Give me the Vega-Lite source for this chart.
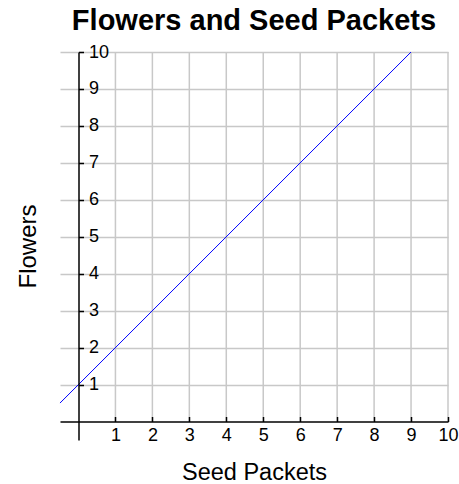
{
  "$schema": "https://vega.github.io/schema/vega-lite/v6.json",
  "autosize": "none",
  "width": 388,
  "height": 388,
  "padding": {"left": 60, "top": 52, "right": 11, "bottom": 44},
  "background": "white",
  "config": {"view": {"stroke": null}, "font": "Liberation Sans"},
  "title": {"text": "Flowers and Seed Packets", "font": "Liberation Sans", "fontSize": 29, "fontWeight": "bold", "color": "black", "anchor": "middle", "offset": 7},
  "datasets": {
    "line": [{"packets": -0.5, "flowers": 0.5}, {"packets": 9, "flowers": 10}],
    "grid": [{"v": 1}, {"v": 2}, {"v": 3}, {"v": 4}, {"v": 5}, {"v": 6}, {"v": 7}, {"v": 8}, {"v": 9}, {"v": 10}]
  },
  "layer": [
    {
      "data": {"name": "grid"},
      "mark": {"type": "rule", "color": "#c8c8c8", "strokeWidth": 1.5},
      "encoding": {
        "x": {"field": "v", "type": "quantitative", "scale": {"domain": [-0.5, 10], "nice": false, "zero": false},
          "axis": {"orient": "bottom", "values": [1,2,3,4,5,6,7,8,9,10], "grid": false, "domain": false, "ticks": false, "labels": false, "title": "Seed Packets", "titleFont": "Liberation Sans", "titleFontSize": 23.5, "titleFontWeight": "normal", "titleColor": "black", "titlePadding": 20}},
        "y": {"datum": 0, "type": "quantitative", "scale": {"domain": [-0.5, 10], "nice": false, "zero": false},
          "axis": {"orient": "left", "values": [1,2,3,4,5,6,7,8,9,10], "grid": true, "gridColor": "#c8c8c8", "gridWidth": 1.5, "gridOpacity": 1, "domain": false, "ticks": false, "labels": false, "title": "Flowers", "titleFont": "Liberation Sans", "titleFontSize": 24, "titleFontWeight": "normal", "titleColor": "black", "titlePadding": 20}},
        "y2": {"datum": 10}
      }
    },
    {
      "data": {"name": "line"},
      "mark": {"type": "line", "color": "#0000ff", "strokeWidth": 1},
      "encoding": {
        "x": {"field": "packets", "type": "quantitative",
          "axis": {"orient": "bottom", "offset": -18.5, "values": [1,2,3,4,5,6,7,8,9,10], "grid": false, "domain": true, "domainColor": "black", "domainWidth": 1.5, "ticks": true, "tickColor": "black", "tickWidth": 1.5, "tickSize": -5, "labelPadding": 10, "labelFont": "Liberation Sans", "labelFontSize": 18, "labelColor": "black", "labelFlush": false, "labelOverlap": false, "title": null, "zindex": 1}},
        "y": {"field": "flowers", "type": "quantitative",
          "axis": {"orient": "right", "offset": -369.5, "values": [1,2,3,4,5,6,7,8,9,10], "grid": false, "domain": true, "domainColor": "black", "domainWidth": 1.5, "ticks": true, "tickColor": "black", "tickWidth": 1.5, "tickSize": 5, "labelPadding": 5, "labelFont": "Liberation Sans", "labelFontSize": 18, "labelColor": "black", "labelFlush": false, "labelOverlap": false, "title": null, "zindex": 1}}
      }
    }
  ],
  "resolve": {"axis": {"x": "independent", "y": "independent"}}
}
